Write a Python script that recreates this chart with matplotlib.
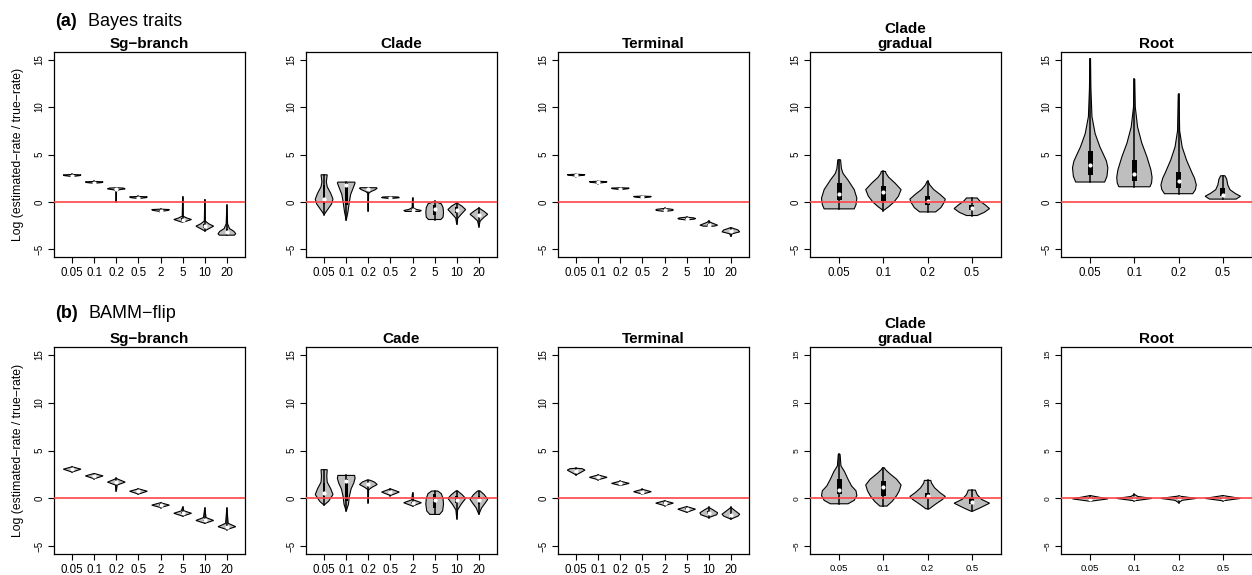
import matplotlib
matplotlib.use('Agg')
import matplotlib.pyplot as plt
from matplotlib.patches import Rectangle
import numpy as np

plt.rcParams['font.family'] = ['Liberation Sans', 'DejaVu Sans']

# category labels (true rate multipliers)
rates_8 = ['0.05', '0.1', '0.2', '0.5', '2', '5', '10', '20']
rates_4 = ['0.05', '0.1', '0.2', '0.5']

# each violin: outline knots (value, relative half-width); boxes: (q1, median, q3)
# ---- (a) Bayes traits ----
a_sg_shapes = [
    [(2.62, 0), (2.7, 0.2), (2.78, 0.9), (2.85, 1.0), (2.9, 0)],
    [(1.88, 0), (1.98, 0.2), (2.05, 0.9), (2.12, 1.0), (2.16, 0)],
    [(0.0, 0), (1.15, 0.02), (1.28, 0.3), (1.38, 1.0), (1.46, 0.8), (1.5, 0)],
    [(0.3, 0), (0.38, 0.2), (0.46, 0.9), (0.54, 1.0), (0.58, 0)],
    [(-1.1, 0), (-0.98, 0.2), (-0.88, 0.9), (-0.8, 1.0), (-0.76, 0)],
    [(-2.15, 0), (-2.0, 0.5), (-1.85, 1.0), (-1.7, 0.5), (-1.5, 0.05), (0.55, 0)],
    [(-3.05, 0), (-2.8, 0.5), (-2.55, 1.0), (-2.3, 0.45), (-2.0, 0.05), (0.25, 0)],
    [(-3.5, 0.85), (-3.35, 1.0), (-3.1, 0.8), (-2.8, 0.3), (-2.3, 0.08), (-0.3, 0)],
]
a_sg_boxes = [(2.72, 2.77, 2.82), (1.98, 2.03, 2.1), (1.25, 1.35, 1.45), (0.38, 0.42, 0.52),
              (-0.98, -0.92, -0.82), (-2.0, -1.85, -1.7), (-2.75, -2.55, -2.35), (-3.4, -3.2, -2.9)]

a_clade_shapes = [
    [(-1.33, 0), (-0.8, 0.4), (-0.2, 0.85), (0.3, 1.0), (0.9, 0.75), (1.6, 0.35), (2.1, 0.25), (2.5, 0.3), (2.86, 0.35)],
    [(-1.95, 0), (-1.0, 0.2), (0.0, 0.35), (0.8, 0.5), (1.5, 0.8), (2.0, 1.0), (2.09, 0.95)],
    [(-0.98, 0), (0.9, 0.03), (1.1, 0.3), (1.3, 0.8), (1.45, 1.0), (1.5, 0.9)],
    [(0.3, 0), (0.38, 0.3), (0.45, 1.0), (0.52, 0.9), (0.55, 0)],
    [(-1.0, 0.8), (-0.9, 1.0), (-0.78, 0.4), (-0.6, 0.05), (0.42, 0)],
    [(-1.85, 0.7), (-1.6, 0.95), (-1.1, 1.0), (-0.6, 0.95), (-0.2, 0.75), (0.07, 0)],
    [(-2.37, 0), (-1.7, 0.12), (-1.2, 0.6), (-0.8, 1.0), (-0.45, 0.6), (-0.1, 0)],
    [(-2.6, 0), (-2.0, 0.15), (-1.6, 0.6), (-1.3, 1.0), (-1.0, 0.6), (-0.63, 0)],
]
a_clade_boxes = [(-0.2, 0.35, 1.8), (-0.3, 1.8, 1.95), (1.2, 1.4, 1.47), (0.38, 0.42, 0.5),
                 (-0.95, -0.85, -0.75), (-1.4, -0.75, -0.3), (-1.2, -0.85, -0.5), (-1.6, -1.35, -1.05)]

a_term_shapes = [
    [(2.68, 0), (2.75, 0.2), (2.82, 0.9), (2.88, 1.0), (2.92, 0)],
    [(1.92, 0), (2.0, 0.2), (2.08, 0.9), (2.14, 1.0), (2.18, 0)],
    [(1.25, 0), (1.32, 0.2), (1.4, 0.9), (1.46, 1.0), (1.5, 0)],
    [(0.38, 0), (0.45, 0.2), (0.52, 0.9), (0.58, 1.0), (0.62, 0)],
    [(-1.0, 0), (-0.9, 0.9), (-0.84, 1.0), (-0.78, 0.9), (-0.68, 0)],
    [(-1.9, 0), (-1.8, 0.9), (-1.74, 1.0), (-1.68, 0.8), (-1.6, 0)],
    [(-2.55, 0.6), (-2.45, 1.0), (-2.3, 0.6), (-2.15, 0.2), (-2.0, 0)],
    [(-3.63, 0), (-3.35, 0.15), (-3.15, 1.0), (-2.95, 0.8), (-2.7, 0)],
]
a_term_boxes = [(2.76, 2.8, 2.86), (2.0, 2.05, 2.12), (1.33, 1.37, 1.44), (0.45, 0.5, 0.56),
                (-0.9, -0.84, -0.78), (-1.8, -1.75, -1.7), (-2.5, -2.4, -2.3), (-3.25, -3.08, -2.95)]

a_grad_shapes = [
    [(-0.73, 0.85), (-0.3, 0.95), (0.4, 1.0), (1.3, 0.85), (2.3, 0.5), (3.0, 0.22), (3.5, 0.13), (4.0, 0.1), (4.44, 0.08)],
    [(-0.91, 0), (-0.5, 0.3), (0.0, 0.6), (0.6, 0.85), (1.3, 1.0), (2.0, 0.65), (2.6, 0.3), (3.0, 0.15), (3.22, 0.12)],
    [(-1.05, 0.45), (-0.6, 0.75), (0.0, 0.95), (0.3, 1.0), (0.8, 0.7), (1.3, 0.35), (1.8, 0.12), (2.17, 0.03)],
    [(-1.43, 0.3), (-1.1, 0.7), (-0.7, 1.0), (-0.3, 0.75), (0.1, 0.45), (0.42, 0.3)],
]
a_grad_boxes = [(0.25, 0.84, 2.0), (0.07, 1.05, 1.65), (-0.28, 0.14, 0.6), (-0.9, -0.63, -0.3)]

a_root_shapes = [
    [(2.1, 0.82), (2.7, 0.95), (3.6, 1.0), (4.3, 0.92), (4.8, 0.8), (5.8, 0.55), (7.2, 0.28), (9.0, 0.1), (12.0, 0.04), (15.1, 0.02)],
    [(1.6, 0.88), (2.0, 0.97), (2.6, 1.0), (3.4, 0.93), (4.8, 0.7), (6.2, 0.42), (7.9, 0.18), (10.0, 0.05), (12.94, 0.02)],
    [(0.87, 0.8), (1.3, 0.95), (1.8, 1.0), (2.5, 0.9), (3.1, 0.75), (4.4, 0.45), (5.8, 0.2), (7.5, 0.06), (11.36, 0.02)],
    [(0.3, 0.75), (0.6, 1.0), (0.9, 0.7), (1.3, 0.4), (1.8, 0.28), (2.4, 0.22), (2.76, 0.12)],
]
a_root_boxes = [(2.87, 3.92, 5.42), (2.17, 2.97, 4.44), (1.47, 2.17, 3.11), (0.6, 0.77, 1.47)]

# ---- (b) BAMM-flip ----
b_sg_shapes = [
    [(2.75, 0), (3.05, 1.0), (3.3, 0)],
    [(2.05, 0), (2.35, 1.0), (2.6, 0)],
    [(0.75, 0), (1.4, 0.1), (1.7, 1.0), (2.0, 0.2), (2.1, 0)],
    [(0.45, 0), (0.75, 1.0), (1.0, 0)],
    [(-0.95, 0), (-0.7, 1.0), (-0.45, 0)],
    [(-1.85, 0), (-1.55, 1.0), (-1.3, 0.15), (-0.9, 0)],
    [(-2.6, 0), (-2.3, 1.0), (-2.0, 0.15), (-1.0, 0)],
    [(-3.25, 0), (-2.95, 1.0), (-2.6, 0.15), (-1.0, 0)],
]
b_sg_boxes = [(2.95, 3.05, 3.15), (2.25, 2.35, 2.45), (1.55, 1.7, 1.85), (0.65, 0.75, 0.85),
              (-0.8, -0.7, -0.6), (-1.65, -1.55, -1.45), (-2.4, -2.3, -2.2), (-3.05, -2.95, -2.8)]

b_cade_shapes = [
    [(-0.7, 0), (-0.3, 0.5), (0.4, 1.0), (1.0, 0.75), (1.7, 0.35), (2.3, 0.3), (3.0, 0.35)],
    [(-1.33, 0), (-0.6, 0.25), (0.2, 0.35), (1.0, 0.55), (1.6, 0.85), (2.1, 1.0), (2.4, 0.95)],
    [(-0.45, 0), (0.9, 0.03), (1.15, 0.4), (1.45, 1.0), (1.7, 0.7), (1.9, 0.2)],
    [(0.3, 0), (0.66, 1.0), (1.0, 0)],
    [(-0.8, 0), (-0.45, 1.0), (-0.15, 0.1), (0.6, 0)],
    [(-1.67, 0.55), (-1.3, 0.9), (-0.6, 1.0), (0.0, 0.95), (0.5, 0.75), (0.77, 0.35)],
    [(-2.13, 0), (-1.2, 0.1), (-0.6, 0.5), (0.0, 1.0), (0.4, 0.6), (0.77, 0.1)],
    [(-1.67, 0), (-1.0, 0.3), (-0.5, 0.7), (-0.1, 1.0), (0.4, 0.6), (0.77, 0.15)],
]
b_cade_boxes = [(0.1, 0.6, 1.6), (-0.3, 1.82, 2.0), (1.3, 1.47, 1.6), (0.58, 0.66, 0.74),
                (-0.55, -0.45, -0.35), (-1.0, -0.2, 0.5), (-0.5, -0.17, 0.3), (-0.6, -0.17, 0.25)]

b_term_shapes = [
    [(2.45, 0), (2.75, 0.6), (2.95, 1.0), (3.1, 0.7), (3.15, 0)],
    [(1.95, 0), (2.2, 1.0), (2.45, 0)],
    [(1.35, 0), (1.57, 1.0), (1.8, 0)],
    [(0.45, 0), (0.7, 1.0), (0.95, 0)],
    [(-0.75, 0), (-0.49, 1.0), (-0.25, 0)],
    [(-1.45, 0), (-1.12, 1.0), (-0.85, 0)],
    [(-2.0, 0), (-1.7, 0.9), (-1.5, 1.0), (-1.2, 0.5), (-0.94, 0)],
    [(-2.16, 0), (-1.85, 0.8), (-1.65, 1.0), (-1.3, 0.5), (-0.94, 0)],
]
b_term_boxes = [(2.8, 2.9, 3.0), (2.1, 2.2, 2.3), (1.47, 1.57, 1.67), (0.6, 0.7, 0.8),
                (-0.59, -0.49, -0.39), (-1.22, -1.12, -1.02), (-1.65, -1.5, -1.35), (-1.8, -1.68, -1.5)]

b_grad_shapes = [
    [(-0.56, 0.5), (-0.2, 0.85), (0.3, 1.0), (0.8, 0.95), (1.3, 0.7), (2.0, 0.5), (2.8, 0.3), (3.4, 0.1), (4.6, 0.05)],
    [(-0.8, 0.2), (-0.3, 0.5), (0.3, 0.75), (0.8, 0.9), (1.4, 1.0), (2.0, 0.75), (2.6, 0.35), (3.0, 0.12), (3.2, 0.05)],
    [(-1.08, 0.1), (-0.6, 0.45), (-0.1, 0.85), (0.2, 1.0), (0.6, 0.7), (1.1, 0.4), (1.6, 0.22), (1.88, 0.18)],
    [(-1.33, 0.05), (-1.0, 0.45), (-0.5, 1.0), (-0.1, 0.55), (0.4, 0.3), (0.87, 0.2)],
]
b_grad_boxes = [(0.42, 0.87, 2.0), (0.3, 1.19, 1.8), (0.0, 0.3, 0.6), (-0.6, -0.35, 0.0)]

b_root_shapes = [
    [(-0.3, 0), (-0.05, 1.0), (0.3, 0)],
    [(-0.25, 0), (0.0, 1.0), (0.2, 0.2), (0.42, 0)],
    [(-0.45, 0), (-0.2, 0.2), (0.0, 1.0), (0.25, 0)],
    [(-0.25, 0), (0.0, 1.0), (0.3, 0)],
]
b_root_boxes = [(-0.08, -0.02, 0.04), (-0.05, 0.0, 0.05), (-0.06, 0.0, 0.05), (-0.05, 0.0, 0.05)]


def draw_violins(ax, shapes, boxes, labels, title, fs_x=8.3, fs_y=7):
    n = len(shapes)
    for i, (knots, (q1, med, q3)) in enumerate(zip(shapes, boxes)):
        pos = i + 1
        ys = np.array([k[0] for k in knots])
        ws = np.array([k[1] for k in knots]) * 0.4
        xs = np.concatenate([pos - ws, (pos + ws)[::-1]])
        yy = np.concatenate([ys, ys[::-1]])
        ax.fill(xs, yy, facecolor='#BEBEBE', edgecolor='black', lw=0.8, zorder=2)
        ax.plot([pos, pos], [ys[0], ys[-1]], color='black', lw=1.1, zorder=3)
        ax.add_patch(Rectangle((pos - 0.06, q1), 0.12, q3 - q1, facecolor='black',
                               edgecolor='none', zorder=3))
        ax.plot(pos, med, 'o', color='white', ms=3, mec='none', zorder=4)
    ax.axhline(0, color='#FF4545', lw=1.2, zorder=5)
    pad = 0.04 * n
    ax.set_xlim(0.5 - pad, n + 0.5 + pad)
    ax.set_ylim(-5.8, 15.8)
    ax.set_xticks(range(1, n + 1))
    ax.set_xticklabels(labels, fontsize=fs_x)
    ax.set_yticks([-5, 0, 5, 10, 15])
    ax.set_yticklabels(['\u22125', '0', '5', '10', '15'], fontsize=fs_y, rotation=90, va='center')
    ax.tick_params(direction='out', length=4, width=0.8, pad=3, top=False, right=False)
    for s in ax.spines.values():
        s.set_linewidth(0.9)
    ax.set_title(title, fontweight='bold', fontsize=11, pad=3, linespacing=1.1)


fig = plt.figure(figsize=(12.52, 5.75), dpi=100)
W, H = 1252, 575
lefts = [54, 306, 558, 810, 1061]
width = 191

rows = [
    (52, 257, [(a_sg_shapes, a_sg_boxes, rates_8, 'Sg\u2212branch'),
               (a_clade_shapes, a_clade_boxes, rates_8, 'Clade'),
               (a_term_shapes, a_term_boxes, rates_8, 'Terminal'),
               (a_grad_shapes, a_grad_boxes, rates_4, 'Clade\ngradual'),
               (a_root_shapes, a_root_boxes, rates_4, 'Root')]),
    (347, 554, [(b_sg_shapes, b_sg_boxes, rates_8, 'Sg\u2212branch'),
                (b_cade_shapes, b_cade_boxes, rates_8, 'Cade'),
                (b_term_shapes, b_term_boxes, rates_8, 'Terminal'),
                (b_grad_shapes, b_grad_boxes, rates_4, 'Clade\ngradual'),
                (b_root_shapes, b_root_boxes, rates_4, 'Root')]),
]

for r, (top, bottom, panels) in enumerate(rows):
    for c, (shapes, boxes, labels, title) in enumerate(panels):
        ax = fig.add_axes([lefts[c] / W, 1 - bottom / H, width / W, (bottom - top) / H])
        if r == 1 and c >= 3:
            draw_violins(ax, shapes, boxes, labels, title, fs_x=6.8, fs_y=6)
        else:
            draw_violins(ax, shapes, boxes, labels, title)
    fig.text(18 / W, 1 - (top + bottom) / 2 / H, 'Log (estimated\u2212rate / true\u2212rate)',
             rotation=90, fontsize=8.8, ha='center', va='center')

fig.text(55 / W, 1 - 26 / H, '(a)', fontsize=13, fontweight='bold', va='baseline')
fig.text(88 / W, 1 - 26 / H, 'Bayes traits', fontsize=13, va='baseline')
fig.text(55 / W, 1 - 318 / H, '(b)', fontsize=13, fontweight='bold', va='baseline')
fig.text(88 / W, 1 - 318 / H, 'BAMM\u2212flip', fontsize=13, va='baseline')

fig.savefig('out.png', dpi=100)
